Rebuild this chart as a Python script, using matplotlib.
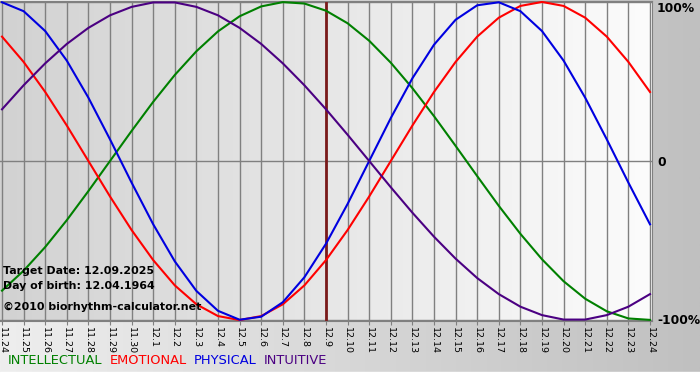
import numpy as np
import matplotlib
matplotlib.use('Agg')
import matplotlib.pyplot as plt
from matplotlib.colors import LinearSegmentedColormap

# 日期标签 (月.日)
days = ['11.24', '11.25', '11.26', '11.27', '11.28', '11.29', '11.30'] + \
       ['12.%d' % d for d in range(1, 25)]

# 各周期的读数 (-1 .. 1)
physical = [0.998, 0.942, 0.817, 0.631, 0.398, 0.136, -0.136, -0.398, -0.631, -0.817,
            -0.942, -0.998, -0.979, -0.888, -0.731, -0.520, -0.270, 0.0, 0.270, 0.520,
            0.731, 0.888, 0.979, 0.998, 0.942, 0.817, 0.631, 0.398, 0.136, -0.136, -0.398]
emotional = [0.782, 0.623, 0.434, 0.223, 0.0, -0.223, -0.434, -0.623, -0.782, -0.901,
             -0.975, -1.0, -0.975, -0.901, -0.782, -0.623, -0.434, -0.223, 0.0, 0.223,
             0.434, 0.623, 0.782, 0.901, 0.975, 1.0, 0.975, 0.901, 0.782, 0.623, 0.434]
intellectual = [-0.815, -0.690, -0.541, -0.372, -0.189, 0.0, 0.189, 0.372, 0.541, 0.690,
                0.815, 0.910, 0.972, 0.999, 0.990, 0.945, 0.866, 0.756, 0.618, 0.458,
                0.282, 0.095, -0.095, -0.282, -0.458, -0.618, -0.756, -0.866, -0.945, -0.990, -0.999]
intuitive = [0.325, 0.476, 0.614, 0.736, 0.837, 0.916, 0.969, 0.997, 0.997, 0.969,
             0.916, 0.837, 0.736, 0.614, 0.476, 0.325, 0.165, 0.0, -0.165, -0.325,
             -0.476, -0.614, -0.736, -0.837, -0.916, -0.969, -0.997, -0.997, -0.969, -0.916, -0.837]

target_idx = 15  # 12.9
target_text = 'Target Date: 12.09.2025'
birth_text = 'Day of birth: 12.04.1964'
copy_text = '\u00a92010 biorhythm-calculator.net'

series = [
    ('INTELLECTUAL', intellectual, '#008000'),
    ('EMOTIONAL', emotional, '#ff0000'),
    ('PHYSICAL', physical, '#0000e0'),
    ('INTUITIVE', intuitive, '#4b0082'),
]

fig = plt.figure(figsize=(7, 3.8), dpi=100)

# 整体背景渐变
bg = fig.add_axes([0, 0, 1, 1], zorder=-5)
bg.imshow(np.linspace(0, 1, 256).reshape(1, -1), aspect='auto', extent=[0, 1, 0, 1],
          cmap=LinearSegmentedColormap.from_list('bg', ['#eeeeee', '#c0c0c0']))
bg.axhspan(0, 8 / 380, color='white')
bg.set_xlim(0, 1)
bg.set_ylim(0, 1)
bg.axis('off')

ax = fig.add_axes([0, 59 / 380, 652 / 700, 320 / 380])
x = np.arange(len(days))
ax.set_xlim(-0.093, 30.093)
ax.set_ylim(-1.006, 1.006)

# 绘图区渐变
ax.imshow(np.linspace(0, 1, 256).reshape(1, -1), aspect='auto',
          extent=[-0.093, 30.093, -1.006, 1.006], zorder=0,
          cmap=LinearSegmentedColormap.from_list('pa', ['#d2d2d2', '#fcfcfc']))

for xi in x:
    ax.axvline(xi, color='#808080', lw=1, zorder=1)
for yv in (-1, 0, 1):
    ax.axhline(yv, color='#808080', lw=1, zorder=1)

ax.axvline(target_idx, color='#7a1a1a', lw=2, zorder=2)

for name, vals, col in series:
    ax.plot(x, vals, color=col, lw=1.5, zorder=3, solid_joinstyle='round')

ax.set_xticks(x)
ax.set_xticklabels(days, rotation=270, fontsize=6.8)
ax.tick_params(axis='x', length=3, color='#808080', pad=1)
ax.set_yticks([])
for s in ax.spines.values():
    s.set_color('#808080')
ax.spines['left'].set_visible(False)

ax.text(0.004, 0.156, target_text, transform=ax.transAxes, fontsize=7.9,
        fontweight='bold', va='center', zorder=5)
ax.text(0.004, 0.109, birth_text, transform=ax.transAxes, fontsize=7.9,
        fontweight='bold', va='center', zorder=5)
ax.text(0.004, 0.044, copy_text, transform=ax.transAxes, fontsize=7.9,
        fontweight='bold', va='center', zorder=5)

# 右侧刻度文字
for ypx, lab in ((8, '100%'), (162, '0'), (321, '-100%')):
    fig.text(657 / 700, 1 - ypx / 380, lab, fontsize=8.8,
             fontweight='bold', va='center', ha='left')

# 图例文字
xpos = 8
for name, vals, col in series:
    t = fig.text(xpos / 700, 1 - 361 / 380, name, color=col, fontsize=9.4, va='center')
    fig.canvas.draw()
    w = t.get_window_extent().width
    xpos += w + 7

fig.savefig('out.png', dpi=100)
